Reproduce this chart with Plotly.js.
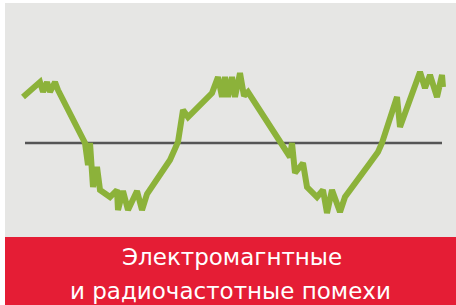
<!DOCTYPE html>
<html><head><meta charset="utf-8">
<script src="https://cdn.plot.ly/plotly-3.0.1.min.js"></script>
<style>html,body{margin:0;padding:0;background:#fff}#chart{width:456px;height:305px}</style>
</head><body><div id="chart"></div>
<script>
// Time samples and signal level (level 0 = reference line)
var time = [23,40,43,47,50,55,58,85,88,90,93,97,100,110,117,118,123,128,137,142,147,155,170,178,183,188,212,218,222,225,228,232,235,240,244,248,280,285,290,292,295,303,307,317,323,327,332,340,345,370,378,382,397,400,420,425,430,437,442,443];
var level = [46,61,51,61,51,61,53,0,-22,0,-44,-24,-47,-54,-47,-67,-48,-67,-48,-67,-51,-40,-17,1,33,26,50,66,46,66,46,66,46,70,47,51,3,-5,-14,0,-30,-20,-44,-54,-47,-70,-47,-69,-54,-20,-9,0,46,16,71,55,68,46,68,56];
var refTime = [25,442];
var refLevel = [0,0];
var title1 = "Электромагнтные";
var title2 = "и радиочастотные помехи";

var traces = [
  {x: refTime, y: refLevel, mode: 'lines', line: {color: '#555555', width: 2.5}, hoverinfo: 'skip'},
  {x: time, y: level, mode: 'lines', line: {color: '#8cb23a', width: 6, shape: 'linear'}, hoverinfo: 'skip'}
];
var layout = {
  width: 456, height: 305,
  margin: {l: 0, r: 0, t: 0, b: 0},
  paper_bgcolor: '#ffffff', plot_bgcolor: 'rgba(0,0,0,0)',
  showlegend: false,
  xaxis: {range: [0, 456], visible: false, fixedrange: true},
  yaxis: {range: [-162, 143], visible: false, fixedrange: true},
  shapes: [
    {type: 'rect', xref: 'paper', yref: 'paper', x0: 5/456, x1: 1, y0: 68/305, y1: 302/305, fillcolor: '#e6e6e4', line: {width: 0}, layer: 'below'},
    {type: 'rect', xref: 'paper', yref: 'paper', x0: 5/456, x1: 1, y0: 0, y1: 68/305, fillcolor: '#e51d35', line: {width: 0}, layer: 'below'}
  ],
  annotations: [
    {xref: 'paper', yref: 'paper', x: 232/456, y: 1 - 257/305, text: title1, showarrow: false, xanchor: 'center', yanchor: 'middle', font: {family: 'DejaVu Sans, sans-serif', size: 23, color: '#ffffff'}},
    {xref: 'paper', yref: 'paper', x: 231/456, y: 1 - 291/305, text: title2, showarrow: false, xanchor: 'center', yanchor: 'middle', font: {family: 'DejaVu Sans, sans-serif', size: 23, color: '#ffffff'}}
  ]
};
Plotly.newPlot('chart', traces, layout, {staticPlot: true, displayModeBar: false});
</script></body></html>
